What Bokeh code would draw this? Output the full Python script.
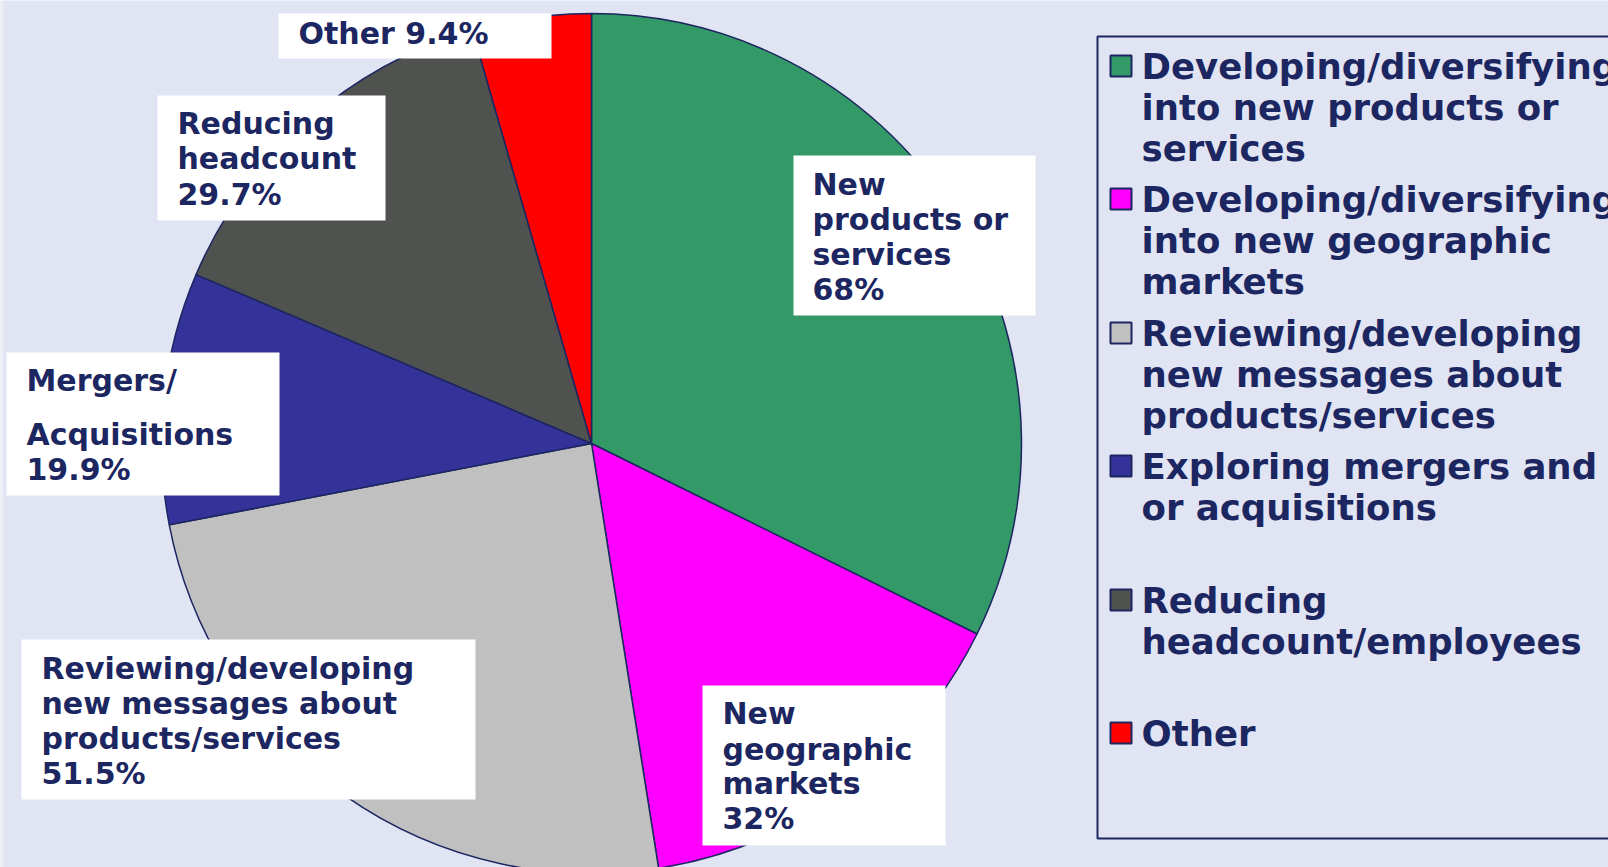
import numpy as np
from bokeh.plotting import figure
from bokeh.models import Range1d
from bokeh.core.properties import value
from bokeh.embed import file_html
from bokeh.resources import INLINE

# ---------------- data ----------------
categories = [
    "New products or services",
    "New geographic markets",
    "Reviewing/developing new messages about products/services",
    "Mergers/Acquisitions",
    "Reducing headcount",
    "Other",
]
percent = [68, 32, 51.5, 19.9, 29.7, 9.4]
colors = ["#339966", "#FF00FF", "#C0C0C0", "#333399", "#505250", "#FF0000"]

label_lines = [
    ["New", "products or", "services"],
    ["New", "geographic", "markets"],
    ["Reviewing/developing", "new messages about", "products/services"],
    ["Mergers/", "Acquisitions"],
    ["Reducing", "headcount"],
    ["Other"],
]
legend_lines = [
    ["Developing/diversifying", "into new products or", "services"],
    ["Developing/diversifying", "into new geographic", "markets"],
    ["Reviewing/developing", "new messages about", "products/services"],
    ["Exploring mergers and", "or acquisitions"],
    ["Reducing", "headcount/employees"],
    ["Other"],
]

# ---------------- layout (screen px of the window) ----------------
W, H = 1608, 867
NAVY = "#1C2660"
BG = "#E0E4F3"
FONT = value("DejaVu Sans")


def Y(ys):
    return H - ys


p = figure(width=W, height=H, output_backend="svg", toolbar_location=None,
           x_range=Range1d(0, W), y_range=Range1d(0, H), min_border=0)
p.axis.visible = False
p.grid.visible = False
p.outline_line_color = None
p.background_fill_color = BG
p.border_fill_color = BG

# thin lighter strip at the left edge
p.quad(left=0, right=3, top=H, bottom=0, fill_color="#EDEFF8", line_color=None)

# pie
cx, cy, r = 591, 443, 430
vals = np.array(percent, dtype=float)
cum = np.concatenate([[0], np.cumsum(vals)])
frac = cum / cum[-1]
start = np.pi / 2 - 2 * np.pi * frac[:-1]
end = np.pi / 2 - 2 * np.pi * frac[1:]
p.wedge(x=[cx] * len(vals), y=[Y(cy)] * len(vals), radius=r,
        start_angle=list(start), end_angle=list(end), direction="clock",
        fill_color=colors, line_color=NAVY, line_width=1.5)

# data labels: box (left, right, top, bottom) and line centres
boxes = [
    (793, 1035, 155, 315),
    (702, 945, 685, 845),
    (21, 475, 639, 799),
    (6, 279, 352, 495),
    (157, 385, 95, 220),
    (278, 551, 13, 58),
]
text_x = [812, 722, 41, 26, 177, 298]
line_y = [
    [184, 219, 254, 289],
    [713, 749, 783, 818],
    [668, 703, 738, 773],
    [380, 434, 469],
    [123, 158, 194],
    [33],
]

for i in range(len(categories)):
    l, rr, t, b = boxes[i]
    p.quad(left=l, right=rr, top=Y(t), bottom=Y(b), fill_color="white", line_color=None)
    pct = f"{percent[i]:g}%"
    lines = list(label_lines[i])
    if len(lines) == 1:
        lines = [lines[0] + " " + pct]
    else:
        lines = lines + [pct]
    ys = line_y[i]
    p.text(x=[text_x[i]] * len(lines), y=[Y(v) for v in ys], text=lines,
           text_font=FONT, text_font_style="bold", text_font_size="30px",
           text_color=NAVY, text_baseline="middle", text_align="left")

# legend
p.quad(left=1097, right=W + 40, top=Y(36), bottom=Y(838), fill_color=None,
       line_color=NAVY, line_width=2)
item_y0 = [66, 199, 333, 466, 600, 733]
lh = 41
for i in range(len(categories)):
    y0 = item_y0[i]
    p.quad(left=1110, right=1131, top=Y(y0 - 11), bottom=Y(y0 + 10),
           fill_color=colors[i], line_color=NAVY, line_width=2)
    lines = legend_lines[i]
    p.text(x=[1141] * len(lines), y=[Y(y0 + k * lh) for k in range(len(lines))], text=lines,
           text_font=FONT, text_font_style="bold", text_font_size="35.5px",
           text_color=NAVY, text_baseline="middle", text_align="left")

open("out.html", "w").write(file_html(p, INLINE))
